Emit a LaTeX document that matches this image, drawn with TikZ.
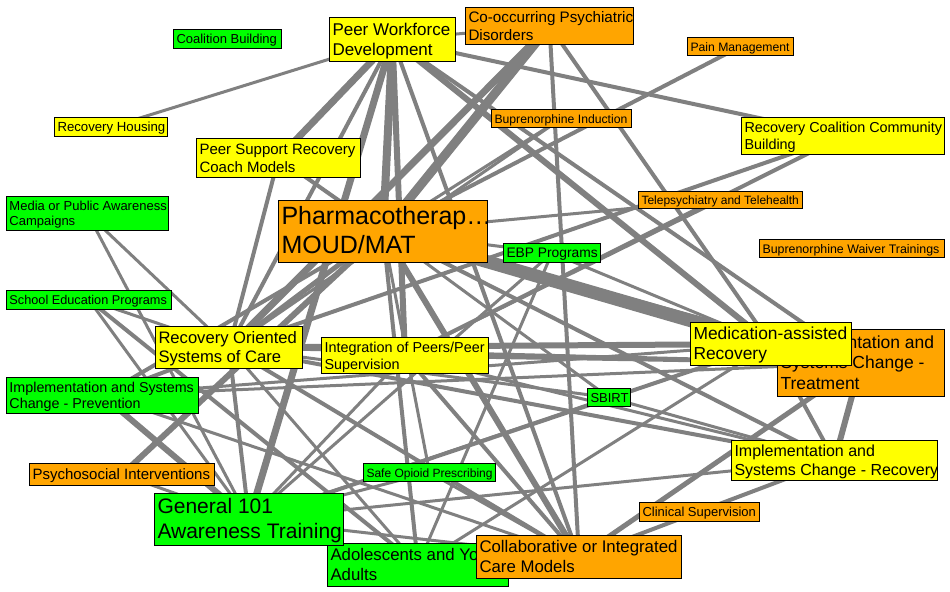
\documentclass[tikz,border=0pt]{standalone}
\usepackage{fontspec}
\setmainfont{Liberation Sans}
\pgfdeclarelayer{bg}
\pgfsetlayers{bg,main}
\definecolor{cgreen}{RGB}{0,255,0}
\definecolor{cyellow}{RGB}{255,255,0}
\definecolor{corange}{RGB}{255,165,0}
\definecolor{cedge}{RGB}{128,128,128}
\newcommand\mkbox[8]{%
 \pgfmathsetmacro\bw{(#4-#2)*0.75}%
 \pgfmathsetmacro\bh{(#5-#3)*0.75}%
 \pgfmathsetmacro\tw{(#4-#2-6)*0.75}%
 \pgfmathsetmacro\fs{#7*0.75}%
 \pgfmathsetmacro\bs{#7*0.75*1.17}%
 \node[nodebox, fill=#6, minimum width=\bw pt, minimum height=\bh pt, font=\fontsize{\fs pt}{\bs pt}\selectfont] (#1) at (#2,#3) {\raisebox{-1.3pt}[\height][\depth]{\makebox[\tw pt][l]{\begin{tabular}{@{}l@{}}#8\end{tabular}}}};%
}
\tikzset{
 nodebox/.style={draw=black, line width=0.75pt, anchor=north west, inner xsep=2.25pt, inner ysep=0pt, text=black},
 ew/.style={draw=cedge, line width=#1*0.75pt}
}
\begin{document}
\begin{tikzpicture}[x=0.75pt,y=-0.75pt]
\useasboundingbox (0,0) rectangle (950,592);
% nodes
\mkbox{CB}{173}{29}{281}{48}{cgreen}{13}{Coalition Building}
\mkbox{PWD}{329}{17}{455}{61}{cyellow}{17}{Peer Workforce\\Development}
\mkbox{COP}{465}{7}{633}{44}{corange}{15.2}{Co-occurring Psychiatric\\Disorders}
\mkbox{PM}{687}{37}{793}{55}{corange}{12.2}{Pain Management}
\mkbox{RH}{54}{117}{167}{136}{cyellow}{13.2}{Recovery Housing}
\mkbox{BI}{491}{109}{631}{127}{corange}{12.2}{Buprenorphine Induction}
\mkbox{RCCB}{741}{117}{944}{154}{cyellow}{14.4}{Recovery Coalition Community\\Building}
\mkbox{PSR}{196}{138}{360}{177}{cyellow}{15}{Peer Support Recovery\\Coach Models}
\mkbox{MPA}{6}{196}{168}{230}{cgreen}{13}{Media or Public Awareness\\Campaigns}
\mkbox{MOUD}{278}{200}{487}{262}{corange}{25}{Pharmacotherap…\\MOUD/MAT}
\mkbox{TT}{638}{191}{802}{208}{corange}{12}{Telepsychiatry and Telehealth}
\mkbox{EBP}{503}{243}{600}{262}{cgreen}{13.8}{EBP Programs}
\mkbox{BWT}{759}{239}{944}{257}{corange}{12.4}{Buprenorphine Waiver Trainings}
\mkbox{SEP}{6}{290}{171}{309}{cgreen}{12.7}{School Education Programs}
\mkbox{ROSC}{155}{326}{302}{368}{cyellow}{16.6}{Recovery Oriented\\Systems of Care}
\mkbox{IPS}{321}{337}{488}{373}{cyellow}{14.4}{Integration of Peers/Peer\\Supervision}
\mkbox{IST}{777}{329}{944}{396}{corange}{17.5}{Implementation and\\Systems Change -\\Treatment}
\mkbox{MAR}{690}{322}{851}{365}{cyellow}{17.4}{Medication-assisted\\Recovery}
\mkbox{SBIRT}{587}{388}{630}{406}{cgreen}{13}{SBIRT}
\mkbox{ISP}{6}{377}{198}{413}{cgreen}{14.3}{Implementation and Systems\\Change - Prevention}
\mkbox{ISR}{731}{440}{937}{480}{cyellow}{16}{Implementation and\\Systems Change - Recovery}
\mkbox{PSI}{29}{463}{214}{485}{corange}{15}{Psychosocial Interventions}
\mkbox{SOP}{363}{463}{495}{481}{cgreen}{12}{Safe Opioid Prescribing}
\mkbox{CS}{639}{502}{759}{521}{corange}{13}{Clinical Supervision}
\mkbox{AYA}{327}{543}{508}{586}{cgreen}{16.8}{Adolescents and Young\\Adults}
\mkbox{G101}{154}{493}{343}{545}{cgreen}{21}{General 101\\Awareness Training}
\mkbox{CICM}{476}{535}{681}{578}{corange}{16.8}{Collaborative or Integrated\\Care Models}
% edges
\begin{pgfonlayer}{bg}
\fill[white] (0,0) rectangle (950,592);
\foreach \a/\b/\w in {
 PWD/RH/3, PWD/COP/3, PWD/RCCB/4, PWD/PSR/7, PWD/ROSC/4, PWD/MOUD/8, PWD/IPS/6,
 PWD/G101/7, PWD/MAR/6, PWD/IST/4, PWD/CICM/4,
 COP/MOUD/9, COP/ROSC/7, COP/CICM/4, COP/MAR/4,
 PM/MOUD/4, RCCB/ROSC/4, RCCB/IPS/4, PSR/ROSC/4,
 MOUD/MAR/13, MOUD/CICM/6, MOUD/PSI/6, MOUD/BI/3, MOUD/PSR/4, MOUD/ROSC/5,
 MOUD/ISP/4, MOUD/IST/5, MOUD/ISR/4, MOUD/SBIRT/3, MOUD/EBP/3, MOUD/AYA/4, MOUD/TT/3,
 ROSC/G101/4, ROSC/MAR/6, ROSC/ISP/4, ROSC/SEP/3, ROSC/MPA/3, ROSC/ISR/4, ROSC/IST/3,
 ROSC/CICM/4, ROSC/SBIRT/3, ROSC/AYA/3,
 MPA/G101/3, SEP/G101/3, SEP/AYA/4,
 ISP/G101/6, ISP/MAR/3, ISP/IST/3, ISP/CICM/3,
 PSI/G101/3, G101/IPS/3, G101/EBP/3, G101/SOP/3, G101/AYA/3, G101/CICM/3, G101/MAR/4,
 G101/ISR/3, G101/SBIRT/3,
 IPS/CICM/4, IPS/IST/4, IPS/ISR/3, IPS/TT/3, SBIRT/ISR/3, SOP/CICM/3, SOP/MOUD/3,
 AYA/CICM/3, AYA/MAR/3, MAR/ISR/4, MAR/IST/3, IST/ISR/6, IST/CICM/5, ISR/CICM/4,
 EBP/MAR/3, EBP/AYA/3, BI/ROSC/3}
 { \draw[ew=\w] (\a.center) -- (\b.center); }
\end{pgfonlayer}
\end{tikzpicture}
\end{document}
